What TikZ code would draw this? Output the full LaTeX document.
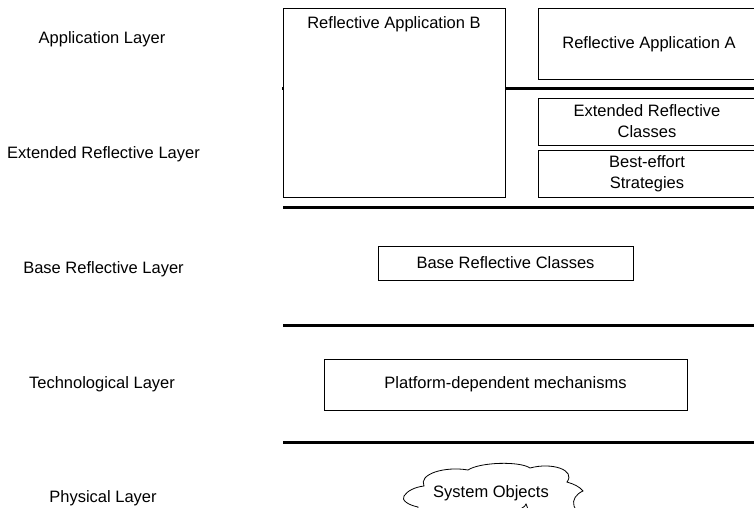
\documentclass[tikz,border=0pt]{standalone}
\usepackage{fontspec}
\setmainfont{Liberation Sans}
\begin{document}
\begin{tikzpicture}[x=1pt,y=-1pt,
  every node/.style={font=\fontsize{16.5}{21}\selectfont, inner sep=0pt},
  layerlabel/.style={anchor=center},
  comp/.style={draw, line width=0.8pt, fill=white, align=center},
  divider/.style={line width=3pt}]
\useasboundingbox (0,0) rectangle (754,508);

% layer names
\node[layerlabel] (lApp)  at (102,39.5)  {Application Layer};
\node[layerlabel] (lExt)  at (103.5,154.5) {Extended Reflective Layer};
\node[layerlabel] (lBase) at (103.5,269) {Base Reflective Layer};
\node[layerlabel] (lTech) at (102,384.5) {Technological Layer};
\node[layerlabel] (lPhys) at (103,498.5) {Physical Layer};

% layer boundaries
\coordinate (d1a) at (282,89);  \coordinate (d1b) at (756,89);
\coordinate (d2a) at (283,207); \coordinate (d2b) at (756,207);
\coordinate (d3a) at (283,325); \coordinate (d3b) at (756,325);
\coordinate (d4a) at (283,442); \coordinate (d4b) at (756,442);
\draw[divider] (d1a) -- (d1b);
\draw[divider] (d2a) -- (d2b);
\draw[divider] (d3a) -- (d3b);
\draw[divider] (d4a) -- (d4b);

% application B spans two layers
\draw[line width=0.8pt, fill=white] (283.5,8.5) rectangle (505,197);
\node (appB) at (394,24) {Reflective Application B};

% application A and extended components
\draw[line width=0.8pt, fill=white] (538,8.5) rectangle (760,79);
\node (appA) at (649,44) {Reflective Application A};
\draw[line width=0.8pt, fill=white] (538,98) rectangle (760,145);
\node[align=center] (erc) at (647,121.5) {Extended Reflective\\Classes};
\draw[line width=0.8pt, fill=white] (538,150) rectangle (760,197);
\node[align=center] (bes) at (647,174) {Best-effort\\Strategies};

% base and technological components
\node[comp, minimum width=255pt, minimum height=34pt] (brc) at (505.5,263) {Base Reflective Classes};
\node[comp, minimum width=363pt, minimum height=51pt] (pdm) at (505.5,384.5) {Platform-dependent mechanisms};

% system objects cloud
\begin{scope}
\clip (0,0) rectangle (754,508);
\draw[line width=0.8pt, fill=white]
  (424,486) .. controls (418,474) and (445,466) .. (468,470)
  .. controls (480,462) and (520,461) .. (530,468)
  .. controls (552,462) and (576,470) .. (567,482)
  .. controls (574,484) and (580,487) .. (583,491)
  .. controls (576,494) and (572,500) .. (574,506)
  .. controls (580,512) and (560,520) .. (530,514)
  .. controls (528,510) and (527,506) .. (526,504)
  .. controls (525,510) and (500,518) .. (470,514)
  .. controls (440,520) and (415,516) .. (418,507)
  .. controls (408,505) and (401,500) .. (404,496)
  .. controls (407,491) and (415,487) .. (424,486) -- cycle;
\end{scope}
\node (sys) at (491,493) {System Objects};
\end{tikzpicture}
\end{document}
